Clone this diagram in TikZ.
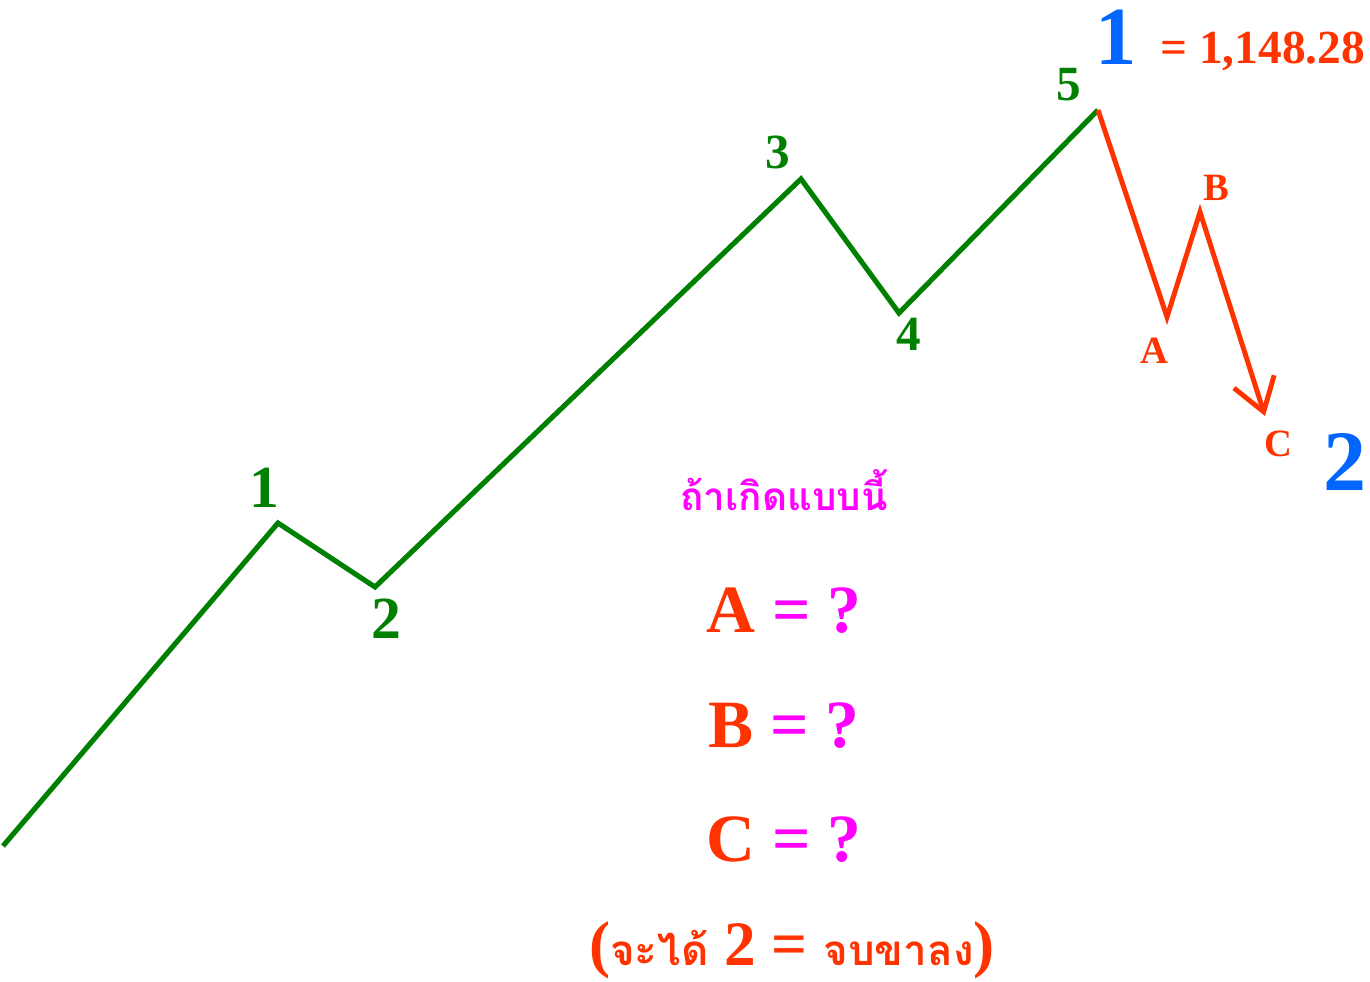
\documentclass[tikz,border=0pt]{standalone}
\usepackage{fontspec}
\setmainfont{Liberation Serif}
\newfontfamily\thaifont[Script=Thai]{Loma}
\newfontfamily\numfont{Liberation Serif}
\usetikzlibrary{arrows.meta}
\definecolor{wavegreen}{RGB}{0,128,0}
\definecolor{corred}{RGB}{255,51,0}
\definecolor{degblue}{RGB}{0,102,255}
\definecolor{askpink}{RGB}{255,0,255}
\newcommand\thaitxt[1]{{\thaifont\fontsize{24}{24}\selectfont #1}}
\tikzset{
  wline/.style={draw=wavegreen, line width=2.9pt},
  cline/.style={draw=corred, line width=2.8pt},
  lbl/.style={anchor=base, inner sep=0pt, font=\numfont\bfseries\fontsize{#1}{#1}\selectfont},
  wlbl/.style={lbl=#1, text=wavegreen},
  clbl/.style={lbl=#1, text=corred},
  dlbl/.style={lbl=#1, text=degblue}
}

\begin{document}
\begin{tikzpicture}[x=0.02cm, y=-0.02cm]
  \useasboundingbox (0,0) rectangle (1370,981);
  % wave points
  \coordinate (w0) at (3,846);
  \coordinate (w1) at (278,523);
  \coordinate (w2) at (375,587);
  \coordinate (w3) at (801,179);
  \coordinate (w4) at (899,313);
  \coordinate (w5) at (1098,110);
  \coordinate (ca) at (1167,317);
  \coordinate (cb) at (1200,212);
  \coordinate (cc) at (1265,416);

  \draw[wline] (w0) -- (w1) -- (w2) -- (w3) -- (w4) -- (w5);
  \draw[cline, -{Straight Barb[length=18pt, width=24pt]}] (w5) -- (ca) -- (cb) -- (cc);

  \node[wlbl=34] (n1) at (264,507) {1};
  \node[wlbl=34] (n2) at (386,638) {2};
  \node[wlbl=28] (n3) at (778,168) {3};
  \node[wlbl=28] (n4) at (909,350) {4};
  \node[wlbl=28] (n5) at (1069,100) {5};

  \node[dlbl=47, text height=33pt] (d1) at (1116,64) {1};
  \node[clbl=27, anchor=base west] (val) at (1160,63) {= 1,148.28};
  \node[dlbl=49] (d2) at (1345,490) {2};

  \node[clbl=22] (la) at (1154,363) {A};
  \node[clbl=22] (lb) at (1216,200) {B};
  \node[clbl=22] (lc) at (1278,456) {C};

  \node[lbl=22, text=askpink, font=\thaifont\bfseries\fontsize{22}{22}\selectfont] (cond) at (784,510) {ถ้าเกิดแบบนี้};
  \node[clbl=38.5] (qa) at (784,632) {A \textcolor{askpink}{= ?}};
  \node[clbl=38.5] (qb) at (784,747) {B \textcolor{askpink}{= ?}};
  \node[clbl=38.5] (qc) at (784,861) {C \textcolor{askpink}{= ?}};
  \node[clbl=36, text depth=6pt] (res) at (792,965) {(\thaitxt{จะได้} 2 = \thaitxt{จบขาลง})};
\end{tikzpicture}
\end{document}
